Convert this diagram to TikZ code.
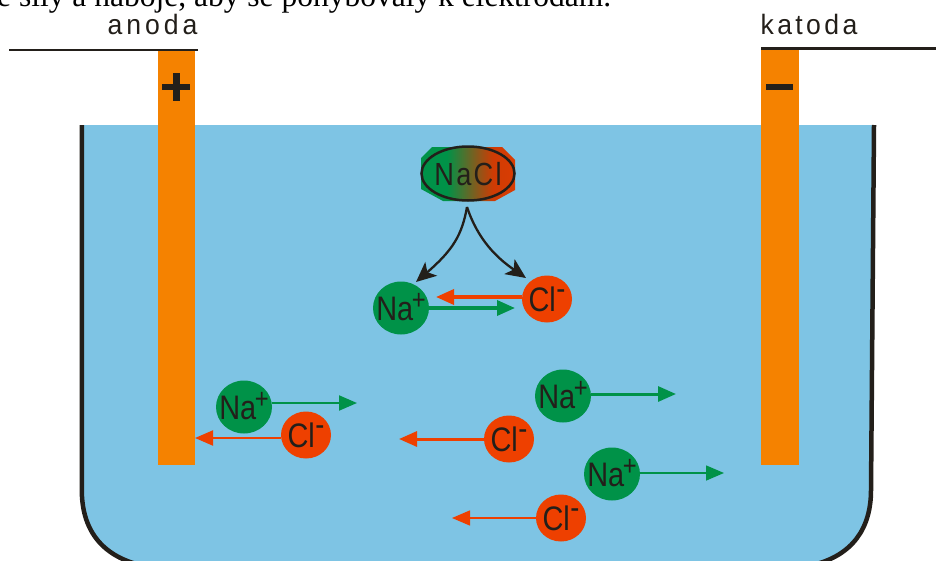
\documentclass[tikz,border=0pt]{standalone}
\usepackage{fontspec}
\setmainfont{Liberation Sans}
\newfontfamily\serifcut{Liberation Serif}
\newfontfamily\narrowfam[FakeStretch=0.85]{Liberation Sans}
\newfontfamily\anodafam[FakeStretch=0.95,LetterSpace=14]{Liberation Sans}
\newfontfamily\katodafam[FakeStretch=0.95,LetterSpace=12]{Liberation Sans}
\newfontfamily\naclfam[FakeStretch=0.85,LetterSpace=7]{Liberation Sans}
\usetikzlibrary{arrows.meta,shapes.geometric}
\definecolor{water}{RGB}{126,196,228}
\definecolor{rod}{RGB}{245,130,0}
\definecolor{naG}{RGB}{0,146,72}
\definecolor{clR}{RGB}{238,64,0}
\definecolor{ink}{RGB}{35,31,26}
\pgfdeclarehorizontalshading{naclgrad}{100bp}{color(0bp)=(naG);color(38.8bp)=(naG);color(63.3bp)=(clR!85!ink);color(100bp)=(clR)}
\newcommand{\ionlabel}[1]{\raisebox{-12.5pt}[0pt][0pt]{\makebox[0pt][c]{#1}}}
\newcommand{\naText}{\ionlabel{\fontsize{34}{34}\narrowfam Na\kern-1.5pt\raisebox{11pt}{\fontsize{28}{28}\selectfont +}}}
\newcommand{\clText}{\ionlabel{\fontsize{34}{34}\narrowfam Cl\kern0.5pt\raisebox{12pt}{\fontsize{32}{32}\selectfont -}}}
\tikzset{x=1pt,y=-1pt,
  lab/.style={inner sep=0pt,text=ink},
  naion/.style={ellipse,inner sep=0pt,minimum width=56pt,minimum height=53pt,fill=naG,text=ink},
  clion/.style={ellipse,inner sep=0pt,minimum width=50pt,minimum height=47pt,fill=clR,text=ink},
  garrow/.style={draw=naG,line width=#1,-{Triangle[length=18pt,width=15pt]}},
  rarrow/.style={draw=clR,line width=#1,-{Triangle[length=18pt,width=15pt]}},
  blackarrow/.style={draw=ink,line width=2.3pt,-{Stealth[length=20pt,width=18pt,inset=5pt]}}
}
\begin{document}
\begin{tikzpicture}
\useasboundingbox (0,0) rectangle (936,560);
\begin{scope}
\clip (0,0) rectangle (936,560);
\node[anchor=base west,inner sep=0pt,font=\fontsize{31.5}{31.5}\serifcut] (cut) at (-3,6) {e sily a náboje, aby se pohybovaly k elektrodám.};
\fill[water] (82,125) -- (874,125) -- (871,490) .. controls (871,528) and (853,555) .. (813,565) -- (780,572) -- (175,572) -- (140,565) .. controls (100,555) and (82,528) .. (82,490) -- cycle;
\draw[ink,line width=4.5pt] (81.8,125) -- (81.8,490) .. controls (81.8,528) and (100,555) .. (140,565) -- (175,572) -- (780,572) -- (813,565) .. controls (853,555) and (871,528) .. (871,490) -- (874,125);
\end{scope}
% electrodes
\fill[rod] (158,50) rectangle (195,465);
\fill[rod] (761,50) rectangle (799,465);
\coordinate (aL) at (9,49.7); \coordinate (aR) at (198,49.7);
\coordinate (kL) at (761,48.7); \coordinate (kR) at (936,48.7);
\draw[ink,line width=2pt] (aL) -- (aR);
\draw[ink,line width=3.5pt] (kL) -- (kR);
\fill[ink] (162,84) rectangle (190,90);
\fill[ink] (173,73) rectangle (180,101);
\fill[ink] (766,84) rectangle (793,90);
\node[lab,anchor=base,font=\fontsize{28}{28}\anodafam] (anoda) at (152.5,34) {anoda};
\node[lab,anchor=base,font=\fontsize{28}{28}\katodafam] (katoda) at (809,34) {katoda};
% NaCl
\shade[shading=naclgrad]
 (432,147) -- (502,147) -- (515,160) -- (515,190) -- (495,201) -- (443,201) -- (421,189) -- (421,158) -- cycle;
\node[ellipse,draw=ink,line width=2.5pt,minimum width=93pt,minimum height=54pt,inner sep=0pt,text=ink] (nacl) at (468,173.5) {\raisebox{-11.5pt}[0pt][0pt]{\makebox[0pt][c]{\fontsize{32}{32}\naclfam NaCl}}};
% ions
\node[naion] (na1) at (401,308) {\naText};
\node[clion] (cl1) at (547,299) {\clText};
\node[naion] (na2) at (244,407) {\naText};
\node[clion] (cl2) at (306,435) {\clText};
\node[naion] (na3) at (563,396) {\naText};
\node[clion] (cl3) at (509,439) {\clText};
\node[naion] (na4) at (612,474) {\naText};
\node[clion] (cl4) at (561,518) {\clText};
% free ends
\coordinate (apex) at (467,207);
\coordinate (tipL) at (416,282);
\coordinate (tipR) at (526,278);
\coordinate (e1) at (436,297);
\coordinate (e2) at (515,308);
\coordinate (e3) at (357,403);
\coordinate (e4) at (195,438);
\coordinate (e5) at (676,394);
\coordinate (e6) at (399,439);
\coordinate (e7) at (724,473);
\coordinate (e8) at (452,518);
% dissociation arrows
\draw[blackarrow] (apex) .. controls (462,235) and (453,250) .. (tipL);
\draw[blackarrow] (apex) .. controls (478,240) and (497,258) .. (tipR);
% drift arrows
\draw[rarrow=3.5pt] (cl1.west |- e1) -- (e1);
\draw[garrow=3.5pt] (na1.east |- e2) -- (e2);
\draw[garrow=2pt] (na2.east |- e3) -- (e3);
\draw[rarrow=2pt] (cl2.west |- e4) -- (e4);
\draw[garrow=3pt] (na3.east |- e5) -- (e5);
\draw[rarrow=3pt] (cl3.west |- e6) -- (e6);
\draw[garrow=1.5pt] (na4.east |- e7) -- (e7);
\draw[rarrow=1.5pt] (cl4.west |- e8) -- (e8);
\end{tikzpicture}
\end{document}
